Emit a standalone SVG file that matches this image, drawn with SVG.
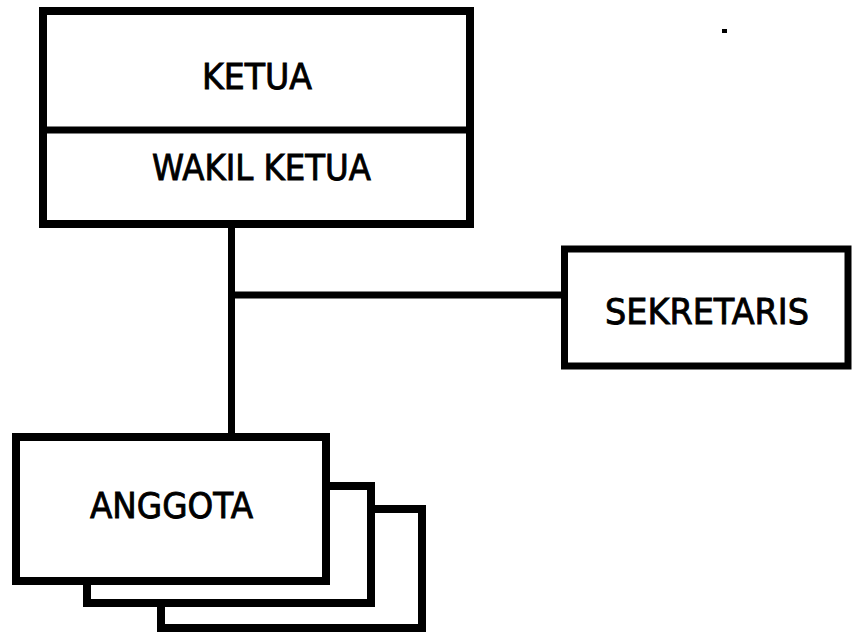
<svg xmlns="http://www.w3.org/2000/svg" width="852" height="633" viewBox="0 0 852 633">
<style>
.box{fill:#fff;stroke:#000;stroke-width:8}
.ln{stroke:#000;stroke-width:7;fill:none}
text{font-family:"DejaVu Sans","Liberation Sans",sans-serif;font-size:35px;fill:#000;stroke:#000;stroke-width:0.9;text-anchor:middle}
</style>
<rect width="852" height="633" fill="#fff"/>
<g id="connectors">
<line class="ln" x1="231.5" y1="226" x2="231.5" y2="436"/>
<line class="ln" x1="231.5" y1="295" x2="565" y2="295"/>
</g>
<g id="ketua">
<rect class="box" x="43" y="11" width="427" height="213"/>
<line class="ln" x1="43" y1="130" x2="470" y2="130"/>
<text x="257" y="89" textLength="110" lengthAdjust="spacingAndGlyphs">KETUA</text>
<text x="261.5" y="180" textLength="219" lengthAdjust="spacingAndGlyphs">WAKIL KETUA</text>
</g>
<g id="sekretaris">
<rect class="box" x="564.5" y="249" width="283.5" height="117" style="stroke-width:7"/>
<text x="707" y="324" textLength="204" lengthAdjust="spacingAndGlyphs">SEKRETARIS</text>
</g>
<g id="anggota">
<rect class="box" x="161" y="509" width="261" height="119"/>
<rect class="box" x="87" y="486" width="284" height="117"/>
<rect class="box" x="16" y="437" width="310" height="144"/>
<text x="171.5" y="518" textLength="163" lengthAdjust="spacingAndGlyphs">ANGGOTA</text>
</g>
<rect x="722" y="29" width="5" height="4" fill="#000"/>
</svg>
